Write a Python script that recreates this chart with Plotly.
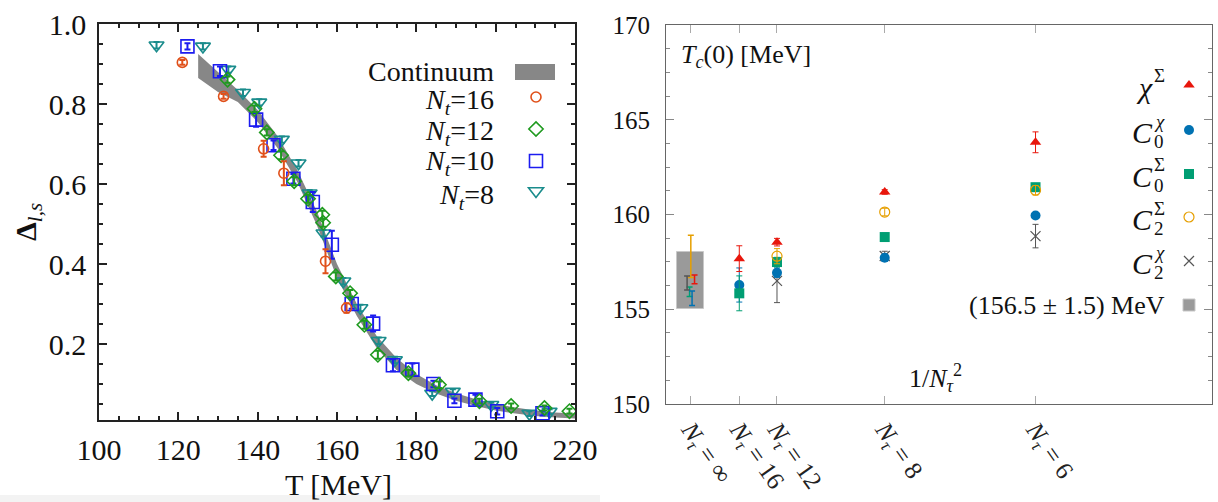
import plotly.graph_objects as go

W, H = 1218, 502

# ---------------- Left panel data: Delta_{l,s} vs T ----------------
T16 = [121.0, 131.4, 141.5, 146.6, 157.1, 162.4]
D16 = [0.904, 0.819, 0.688, 0.627, 0.407, 0.290]
E16 = [0.006, 0.006, 0.020, 0.030, 0.030, 0.012]

T12 = [132.4, 139.2, 142.3, 145.9, 149.2, 152.7, 156.3, 156.5, 159.7, 163.3,
       166.9, 170.3, 178.0, 185.7, 195.9, 203.9, 212.3, 218.6]
D12 = [0.861, 0.788, 0.729, 0.672, 0.607, 0.563, 0.523, 0.503, 0.369, 0.327,
       0.248, 0.173, 0.127, 0.098, 0.057, 0.045, 0.040, 0.032]
E12 = [0.008, 0.008, 0.008, 0.010, 0.010, 0.010, 0.010, 0.010, 0.010, 0.008,
       0.010, 0.010, 0.008, 0.008, 0.006, 0.006, 0.006, 0.006]

T10 = [122.3, 130.5, 139.6, 144.0, 149.0, 153.9, 158.7, 163.7, 169.1, 174.1,
       179.0, 184.3, 189.6, 194.9, 200.4, 211.8]
D10 = [0.944, 0.882, 0.761, 0.697, 0.613, 0.555, 0.448, 0.300, 0.251, 0.147,
       0.136, 0.100, 0.058, 0.061, 0.032, 0.027]
E10 = [0.008, 0.012, 0.018, 0.012, 0.012, 0.025, 0.035, 0.012, 0.020, 0.015,
       0.015, 0.008, 0.006, 0.012, 0.008, 0.006]

T8 = [114.5, 126.2, 132.6, 136.3, 140.4, 146.1, 150.3, 153.1, 156.6, 161.6,
      165.9, 170.5, 174.6, 184.0, 189.2, 198.9, 208.5, 213.6]
D8 = [0.947, 0.944, 0.886, 0.828, 0.804, 0.711, 0.652, 0.577, 0.477, 0.357,
      0.290, 0.208, 0.160, 0.076, 0.081, 0.048, 0.026, 0.031]
E8 = [0.008, 0.008, 0.008, 0.008, 0.008, 0.008, 0.008, 0.008, 0.008, 0.008,
      0.008, 0.008, 0.008, 0.006, 0.006, 0.006, 0.006, 0.006]

# Continuum band
TB = [125, 130, 135, 140, 145, 150, 155, 160, 165, 170,
      175, 180, 185, 190, 195, 200, 205, 210, 215, 220]
BAND_UP = [0.925, 0.880, 0.835, 0.785, 0.720, 0.635, 0.530, 0.400, 0.300, 0.220,
           0.165, 0.125, 0.097, 0.077, 0.062, 0.050, 0.041, 0.034, 0.029, 0.026]
BAND_LO = [0.865, 0.830, 0.805, 0.755, 0.690, 0.605, 0.495, 0.365, 0.270, 0.190,
           0.135, 0.100, 0.076, 0.058, 0.045, 0.034, 0.026, 0.020, 0.016, 0.014]

LEFT_LEGEND = ["Continuum", "<i>N<sub>t</sub></i>=16", "<i>N<sub>t</sub></i>=12",
               "<i>N<sub>t</sub></i>=10", "<i>N<sub>t</sub></i>=8"]

# ---------------- Right panel data: Tc(0) vs 1/N_tau^2 ----------------
NTAU_TICKS = [None, 16, 12, 8, 6]          # None = continuum (N_tau = infinity)
NTAU_TICKTEXT = ["<i>N<sub>τ</sub></i> = ∞", "<i>N<sub>τ</sub></i> = 16",
                 "<i>N<sub>τ</sub></i> = 12", "<i>N<sub>τ</sub></i> = 8",
                 "<i>N<sub>τ</sub></i> = 6"]

N_CHI_S = [16, 12, 8, 6]
TC_CHI_S = [157.67, 158.54, 161.19, 163.81]
ER_CHI_S = [0.68, 0.20, 0.12, 0.55]

N_C0_CHI = [16, 12, 8, 6]
TC_C0_CHI = [156.28, 156.93, 157.72, 159.95]
ER_C0_CHI = [0.90, 0.25, 0.15, 0.12]

N_C0_S = [16, 12, 8, 6]
TC_C0_S = [155.84, 157.49, 158.81, 161.44]
ER_C0_S = [0.92, 0.25, 0.20, 0.20]

N_C2_S = [12, 8, 6]
TC_C2_S = [157.80, 160.13, 161.28]
ER_C2_S = [0.40, 0.20, 0.25]

N_C2_CHI = [12, 8, 6]
TC_C2_CHI = [156.50, 157.81, 158.86]
ER_C2_CHI = [1.15, 0.25, 0.62]

# continuum extrapolations (value, error)
INF_VAL = {"chiS": 156.58, "C0chi": 155.58, "C0S": 155.92, "C2S": 157.79, "C2chi": 156.38}
INF_ERR = {"chiS": 0.23, "C0chi": 0.38, "C0S": 0.25, "C2S": 1.12, "C2chi": 0.37}

TC_FINAL = 156.5
TC_FINAL_ERR = 1.5

RIGHT_LEGEND_MAIN = ["<i>χ</i>", "<i>C</i>", "<i>C</i>", "<i>C</i>", "<i>C</i>"]
RIGHT_LEGEND_SUP = ["Σ", "<i>χ</i>", "Σ", "Σ", "<i>χ</i>"]
RIGHT_LEGEND_SUB = ["", "0", "0", "2", "2"]
RIGHT_LEGEND_BAND = "(156.5 ± 1.5) MeV"

# ---------------- styles / positions ----------------
SERIF = "Liberation Serif"
INF_OFFSET = {"chiS": 0.0003, "C0chi": 0.0001, "C0S": -0.0001, "C2S": 0.0, "C2chi": -0.0003}
BOX_HALF_WIDTH = 0.0011


def inv2(n):
    return 0.0 if n is None else 1.0 / (n * n)


def px(x):
    return x / W


def py(y):
    return 1 - y / H


def leg(xc, yc):
    return dict(x=px(xc - 20), y=py(yc), xanchor="left", yanchor="middle",
                bgcolor="rgba(0,0,0,0)", borderwidth=0, font=dict(size=10),
                itemclick=False, itemdoubleclick=False)


fig = go.Figure()

# continuum band
fig.add_trace(go.Scatter(x=TB + TB[::-1], y=BAND_UP + BAND_LO[::-1], fill="toself",
                         fillcolor="#878787", line=dict(width=0), mode="lines",
                         showlegend=False, xaxis="x", yaxis="y", hoverinfo="skip"))

left_series = [
    (T16, D16, E16, "#e0501a", "circle-open", 10, "legend"),
    (T12, D12, E12, "#1f9a1f", "diamond-open", 11, "legend2"),
    (T10, D10, E10, "#1c1cf0", "square-open", 13, "legend3"),
    (T8, D8, E8, "#1a8c8c", "triangle-down-open", 13, "legend4"),
]
for T, D, E, col, sym, size, lg in [left_series[3], left_series[2], left_series[1], left_series[0]]:
    fig.add_trace(go.Scatter(
        x=T, y=D, mode="markers", name=" ", legend=lg, showlegend=True,
        marker=dict(symbol=sym, size=size, color=col, line=dict(width=1.6, color=col)),
        error_y=dict(type="data", array=E, color=col, thickness=2, width=3),
        xaxis="x", yaxis="y"))

# right panel: final band box as a bar
fig.add_trace(go.Bar(x=[0.0], y=[2 * TC_FINAL_ERR], base=[TC_FINAL - TC_FINAL_ERR],
                     width=[2 * BOX_HALF_WIDTH], name=" ", legend="legend10", showlegend=True,
                     marker=dict(color="#9a9a9a", line=dict(color="#c8c8c8", width=1)),
                     xaxis="x2", yaxis="y2", hoverinfo="skip"))

right_series = [
    ("chiS", N_CHI_S, TC_CHI_S, ER_CHI_S, "#e8160c", "triangle-up", 10, "legend5"),
    ("C0chi", N_C0_CHI, TC_C0_CHI, ER_C0_CHI, "#0072b2", "circle", 10, "legend6"),
    ("C0S", N_C0_S, TC_C0_S, ER_C0_S, "#009e73", "square", 10, "legend7"),
    ("C2S", N_C2_S, TC_C2_S, ER_C2_S, "#e69f00", "circle-open", 10, "legend8"),
    ("C2chi", N_C2_CHI, TC_C2_CHI, ER_C2_CHI, "#555555", "x-thin-open", 10, "legend9"),
]

# continuum extrapolation error bars
for key, N, TC, ER, col, sym, size, lg in [right_series[3], right_series[2], right_series[4],
                                          right_series[1], right_series[0]]:
    fig.add_trace(go.Scatter(
        x=[inv2(None) + INF_OFFSET[key]], y=[INF_VAL[key]], mode="markers",
        marker=dict(size=2, color=col, opacity=0), showlegend=False,
        error_y=dict(type="data", array=[INF_ERR[key]], color=col, thickness=1.5, width=3),
        xaxis="x2", yaxis="y2"))

for key, N, TC, ER, col, sym, size, lg in [right_series[4], right_series[1], right_series[2],
                                          right_series[3], right_series[0]]:
    lw = 1.2 if "open" in sym else 0
    fig.add_trace(go.Scatter(
        x=[inv2(n) for n in N], y=TC, mode="markers", name=" ", legend=lg, showlegend=True,
        marker=dict(symbol=sym, size=size, color=col, line=dict(width=lw, color=col)),
        error_y=dict(type="data", array=ER, color=col, thickness=1, width=3),
        xaxis="x2", yaxis="y2"))

axis_font_l = dict(family=SERIF, size=30, color="#111")
axis_font_r = dict(family=SERIF, size=25, color="#111")

layout = dict(
    width=W, height=H, margin=dict(l=0, r=0, t=0, b=0, autoexpand=False),
    paper_bgcolor="white", plot_bgcolor="white", bargap=0,
    xaxis=dict(domain=[px(99), px(575)], range=[100, 220], tick0=100, dtick=20,
               ticks="inside", ticklen=8, tickwidth=1.5, tickcolor="#222",
               showline=True, linecolor="#222", linewidth=1.5, mirror="ticks",
               showgrid=False, zeroline=False, tickfont=axis_font_l, ticklabelstandoff=2,
               minor=dict(dtick=5, ticks="inside", ticklen=4, tickwidth=1.5, tickcolor="#222"),
               anchor="y"),
    yaxis=dict(domain=[py(420), py(24)], range=[0.01, 1.0], tick0=0, dtick=0.2,
               tickformat=".1f", ticks="inside", ticklen=8, tickwidth=1.5, tickcolor="#222",
               showline=True, linecolor="#222", linewidth=1.5, mirror="ticks",
               showgrid=False, zeroline=False, tickfont=axis_font_l, ticklabelstandoff=5,
               minor=dict(dtick=0.05, ticks="inside", ticklen=4, tickwidth=1.5, tickcolor="#222"),
               anchor="x"),
    xaxis2=dict(domain=[px(666), px(1212)], range=[-0.002, 0.042],
                tickvals=[inv2(n) for n in NTAU_TICKS], ticktext=NTAU_TICKTEXT,
                tickangle=55, ticks="inside", ticklen=8, tickwidth=1, tickcolor="#aaa",
                showline=True, linecolor="#666", linewidth=1, mirror="ticks",
                showgrid=False, zeroline=False, tickfont=dict(family=SERIF, size=25, color="#222"),
                anchor="y2"),
    yaxis2=dict(domain=[py(404), py(25)], range=[150, 170], dtick=5,
                ticks="inside", ticklen=8, tickwidth=1, tickcolor="#888",
                showline=True, linecolor="#666", linewidth=1, mirror="ticks",
                showgrid=False, zeroline=False, tickfont=axis_font_r, ticklabelstandoff=10,
                minor=dict(dtick=1.25, ticks="inside", ticklen=4, tickwidth=1, tickcolor="#888"),
                anchor="x2"),
)

# legends: one per key symbol, positioned at the symbol location
left_sym_y = [97, 129, 161, 191]
for i, yc in enumerate(left_sym_y):
    name = "legend" if i == 0 else "legend%d" % (i + 1)
    layout[name] = leg(536, yc)
right_sym_y = [85, 130, 174, 217, 261, 305]
for i, yc in enumerate(right_sym_y):
    layout["legend%d" % (i + 5)] = leg(1189, yc)

fig.update_layout(**layout)

ann = []
# left legend labels
left_text_y = [72, 101, 132, 163, 196]
for txt, yc in zip(LEFT_LEGEND, left_text_y):
    ann.append(dict(text=txt, x=px(496), y=py(yc), xref="paper", yref="paper",
                    xanchor="right", yanchor="middle", showarrow=False,
                    font=dict(family=SERIF, size=28, color="#111")))
# right legend labels with stacked scripts
for i, yc in enumerate(right_sym_y[:5]):
    ann.append(dict(text=RIGHT_LEGEND_MAIN[i], x=px(1155), y=py(yc + 2), xref="paper",
                    yref="paper", xanchor="right", yanchor="middle", showarrow=False,
                    font=dict(family=SERIF, size=30, color="#111")))
    ann.append(dict(text=RIGHT_LEGEND_SUP[i], x=px(1152), y=py(yc - 9), xref="paper",
                    yref="paper", xanchor="left", yanchor="middle", showarrow=False,
                    font=dict(family=SERIF, size=19, color="#111")))
    if RIGHT_LEGEND_SUB[i]:
        ann.append(dict(text=RIGHT_LEGEND_SUB[i], x=px(1152), y=py(yc + 11), xref="paper",
                        yref="paper", xanchor="left", yanchor="middle", showarrow=False,
                        font=dict(family=SERIF, size=19, color="#111")))
ann.append(dict(text=RIGHT_LEGEND_BAND, x=px(1167), y=py(right_sym_y[5]), xref="paper",
                yref="paper", xanchor="right", yanchor="middle", showarrow=False,
                font=dict(family=SERIF, size=26, color="#111")))
# axis titles
ann.append(dict(text="T [MeV]", x=px(338), y=py(484), xref="paper", yref="paper",
                xanchor="center", yanchor="middle", showarrow=False,
                font=dict(family=SERIF, size=30, color="#111")))
ann.append(dict(text="<b>Δ</b><sub><i>l,s</i></sub>", x=px(28), y=py(222), xref="paper",
                yref="paper", xanchor="center", yanchor="middle", showarrow=False,
                textangle=-90, font=dict(family=SERIF, size=30, color="#111")))
ann.append(dict(text="<i>T<sub>c</sub></i>(0) [MeV]", x=px(679), y=py(56), xref="paper",
                yref="paper", xanchor="left", yanchor="middle", showarrow=False,
                font=dict(family=SERIF, size=26, color="#111")))
ann.append(dict(text="1/<i>N</i><sub><i>τ</i></sub><sup>2</sup>", x=px(935), y=py(378),
                xref="paper", yref="paper", xanchor="center", yanchor="middle",
                showarrow=False, font=dict(family=SERIF, size=26, color="#111")))

shapes = [
    # continuum legend key
    dict(type="rect", xref="paper", yref="paper", x0=px(515), x1=px(555), y0=py(80), y1=py(64),
         fillcolor="#878787", line=dict(width=0)),
    # light strip at bottom-left
    dict(type="rect", xref="paper", yref="paper", x0=0, x1=px(600), y0=0, y1=py(495),
         fillcolor="#f3f3f3", line=dict(width=0), layer="below"),
]
fig.update_layout(annotations=ann, shapes=shapes)

fig.write_html("out.html", config={"displayModeBar": False},
               post_script="document.body.style.margin='0px';document.body.style.padding='0px';")
